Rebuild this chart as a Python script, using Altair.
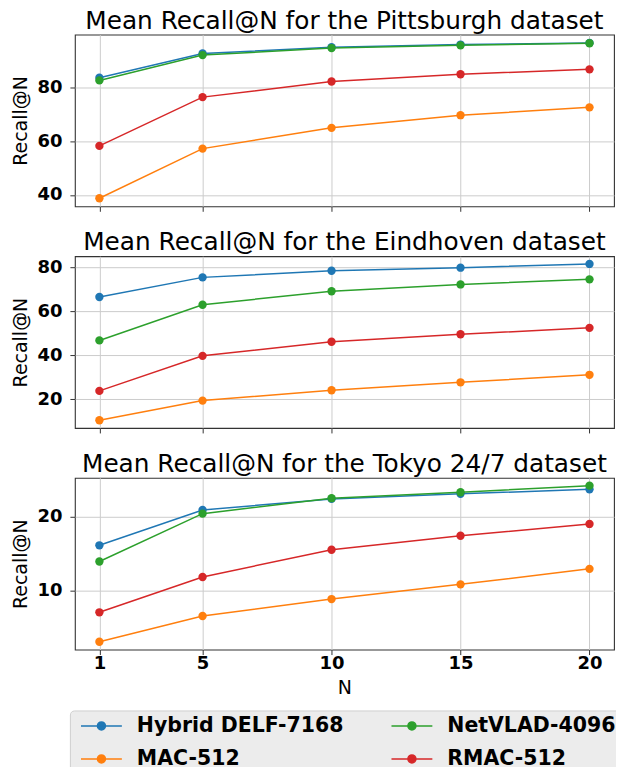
import altair as alt
import pandas as pd

N_VALUES = [1, 5, 10, 15, 20]
METHODS = ["Hybrid DELF-7168", "MAC-512", "NetVLAD-4096", "RMAC-512"]
COLORS = ["#1f77b4", "#ff7f0e", "#2ca02c", "#d62728"]

DATASETS = ["Pittsburgh", "Eindhoven", "Tokyo 24/7"]

pitt_hybrid = [83.5, 92.5, 94.8, 95.8, 96.4]
pitt_mac = [38.8, 57.2, 64.9, 69.6, 72.5]
pitt_netvlad = [82.5, 91.9, 94.5, 95.5, 96.3]
pitt_rmac = [58.2, 76.3, 82.1, 84.8, 86.6]

eind_hybrid = [66.4, 75.3, 78.3, 79.7, 81.4]
eind_mac = [10.5, 19.4, 24.1, 27.7, 31.1]
eind_netvlad = [46.7, 62.9, 69.0, 72.1, 74.4]
eind_rmac = [23.8, 39.7, 46.1, 49.5, 52.4]

tokyo_hybrid = [16.1, 20.9, 22.4, 23.1, 23.7]
tokyo_mac = [3.0, 6.5, 8.8, 10.8, 12.9]
tokyo_netvlad = [13.9, 20.4, 22.5, 23.3, 24.2]
tokyo_rmac = [7.0, 11.8, 15.5, 17.4, 19.0]

SERIES = {
    "Pittsburgh": [pitt_hybrid, pitt_mac, pitt_netvlad, pitt_rmac],
    "Eindhoven": [eind_hybrid, eind_mac, eind_netvlad, eind_rmac],
    "Tokyo 24/7": [tokyo_hybrid, tokyo_mac, tokyo_netvlad, tokyo_rmac],
}

Y_DOMAINS = {
    "Pittsburgh": [35.8, 99.5],
    "Eindhoven": [7.0, 84.9],
    "Tokyo 24/7": [1.94, 25.26],
}
Y_TICKS = {
    "Pittsburgh": [40, 60, 80],
    "Eindhoven": [20, 40, 60, 80],
    "Tokyo 24/7": [10, 20],
}

rows = []
for ds in DATASETS:
    for m, vals in zip(METHODS, SERIES[ds]):
        for n, v in zip(N_VALUES, vals):
            rows.append({"dataset": ds, "method": m, "N": n, "recall": v,
                         "order": METHODS.index(m)})
df = pd.DataFrame(rows)

FONT = "DejaVu Sans"
symbol_path = ("M-0.45,0L3.75,0M1.24,0A0.41,0.41,0,1,1,2.06,0"
               "A0.41,0.41,0,1,1,1.24,0Z")

color_scale = alt.Scale(domain=METHODS, range=COLORS)
legend = alt.Legend(
    title=None, orient="none", legendX=-5, legendY=677, columns=2,
    symbolType=symbol_path, symbolSize=380, symbolStrokeWidth=1.5,
    labelFont=FONT, labelFontSize=20.5, labelFontWeight="bold",
    labelColor="black", labelOffset=41, columnPadding=41, rowPadding=12,
    padding=5, fillColor="#ececec", strokeColor="#cfcfcf", cornerRadius=4,
    labelLimit=400, offset=0,
)


def panel(ds, last):
    sub = df[df["dataset"] == ds]
    x = alt.X(
        "N:Q",
        scale=alt.Scale(domain=[0.05, 20.95], nice=False, zero=False),
        axis=alt.Axis(values=N_VALUES, labels=last, title="N" if last else None,
                      labelPadding=0, titlePadding=6, format="d"),
    )
    y = alt.Y(
        "recall:Q",
        scale=alt.Scale(domain=Y_DOMAINS[ds], nice=False, zero=False),
        axis=alt.Axis(values=Y_TICKS[ds], title="Recall@N", labelPadding=8,
                      titlePadding=6, format="d"),
    )
    color = alt.Color("method:N", scale=color_scale, legend=legend)
    base = alt.Chart(sub).encode(x=x, y=y, color=color, order="order:Q")
    lines = base.mark_line(strokeWidth=1.5)
    pts = base.mark_point(filled=True, size=70, opacity=1)
    return alt.layer(lines, pts).properties(
        width=540, height=172,
        title=alt.TitleParams(f"Mean Recall@N for the {ds} dataset",
                              font=FONT, fontSize=24.8, fontWeight="normal",
                              color="black", offset=1),
    )


chart = alt.vconcat(
    panel("Pittsburgh", False),
    panel("Eindhoven", False),
    panel("Tokyo 24/7", True),
    spacing=16,
    background="white",
).properties(
    padding={"left": 3, "top": -1, "right": -6, "bottom": -9},
).configure_view(
    stroke="#333333", strokeWidth=1.1,
).configure_axis(
    domain=False, grid=True, gridColor="#cccccc", gridWidth=1,
    tickColor="#333333", tickSize=5, tickWidth=1,
    labelFont=FONT, labelFontSize=18, labelFontWeight="bold", labelColor="black",
    titleFont=FONT, titleFontSize=19, titleFontWeight="normal", titleColor="black",
)

chart.save("out.html", embed_options={"renderer": "svg", "actions": False})
